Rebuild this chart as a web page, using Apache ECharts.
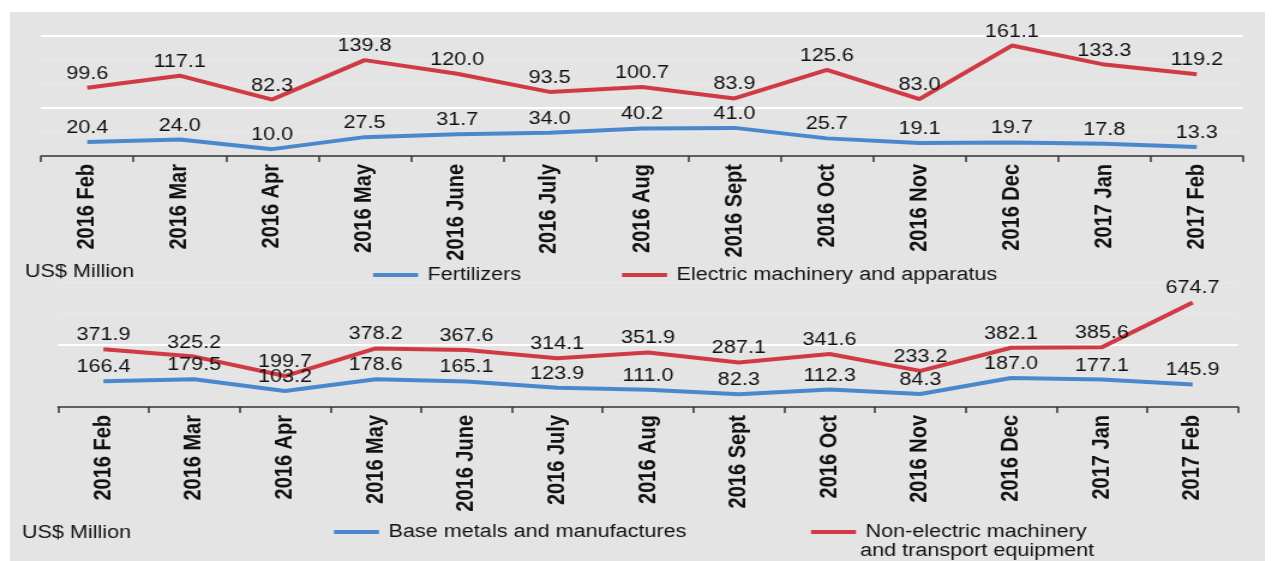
<!DOCTYPE html>
<html>
<head>
<meta charset="utf-8">
<script src="https://cdn.jsdelivr.net/npm/echarts@6/dist/echarts.min.js"></script>
<style>
  html, body { margin: 0; padding: 0; background: #ffffff; width: 1278px; height: 561px; overflow: hidden; }
  #panel { position: absolute; left: 10px; top: 12px; width: 1255px; height: 549px; background: #e4e4e4; }
  #chart { position: absolute; left: 0; top: 0; width: 1065px; height: 561px; transform: scaleX(1.2); transform-origin: 0 0; }
</style>
</head>
<body>
<div id="panel"></div>
<div id="chart"></div>
<script>
// ---- data ----
const categories = ['2016 Feb', '2016 Mar', '2016 Apr', '2016 May', '2016 June', '2016 July', '2016 Aug', '2016 Sept', '2016 Oct', '2016 Nov', '2016 Dec', '2017 Jan', '2017 Feb'];
const fertilizers = [20.4, 24.0, 10.0, 27.5, 31.7, 34.0, 40.2, 41.0, 25.7, 19.1, 19.7, 17.8, 13.3];
const electric = [99.6, 117.1, 82.3, 139.8, 120.0, 93.5, 100.7, 83.9, 125.6, 83.0, 161.1, 133.3, 119.2];
const baseMetals = [166.4, 179.5, 103.2, 178.6, 165.1, 123.9, 111.0, 82.3, 112.3, 84.3, 187.0, 177.1, 145.9];
const nonElectric = [371.9, 325.2, 199.7, 378.2, 367.6, 314.1, 351.9, 287.1, 341.6, 233.2, 382.1, 385.6, 674.7];
const unitLabel = 'US$ Million';
const seriesNames = ['Fertilizers', 'Electric machinery and apparatus', 'Base metals and manufactures', 'Non-electric machinery and transport equipment'];

// ---- styling ----
const S = 1.2; // horizontal stretch of the reference
const FONT = '"Liberation Sans", Arial, sans-serif';
const RED = '#d03a45';
const BLUE = '#4a87cc';
const faint = 'rgba(255,255,255,0.12)';

function xAx(gridIndex) {
  return {
    type: 'category', gridIndex: gridIndex, data: categories, boundaryGap: true,
    axisLine: { lineStyle: { color: '#333', width: 1.5 } },
    axisTick: { show: true, length: 6, lineStyle: { color: '#333', width: 1.5 } },
    axisLabel: { rotate: 90, interval: 0, fontSize: 20, fontWeight: 'bold', color: '#111', margin: 8, fontFamily: FONT }
  };
}
function yAx(gridIndex, max, interval, colors) {
  return {
    type: 'value', gridIndex: gridIndex, min: 0, max: max, interval: interval,
    axisLine: { show: false }, axisTick: { show: false }, axisLabel: { show: false },
    splitLine: { show: true, lineStyle: { color: colors, width: 2 } }
  };
}
function line(name, data, color, idx) {
  return {
    type: 'line', name: name, data: data, xAxisIndex: idx, yAxisIndex: idx,
    symbol: 'circle', symbolSize: 0, showSymbol: true, smooth: false,
    lineStyle: { color: color, width: 4 }, itemStyle: { color: color },
    label: { show: true, position: 'top', distance: 5, fontSize: 18, color: '#111', fontFamily: FONT,
      formatter: p => Number(p.value).toFixed(1) },
    labelLayout: { hideOverlap: false }
  };
}
function leg(name, leftTarget, centerY, formatter) {
  const o = {
    data: [name], left: leftTarget / S, top: centerY - 10, padding: 0,
    itemWidth: 45 / S, itemHeight: 4, icon: 'rect', selectedMode: false,
    textStyle: { fontSize: 18, fontFamily: FONT, color: '#111', lineHeight: 20, padding: [0, 0, 0, 3] }
  };
  if (formatter) o.formatter = formatter;
  return o;
}

const chart = echarts.init(document.getElementById('chart'), null, { renderer: 'canvas' });
chart.setOption({
  animation: false,
  backgroundColor: 'transparent',
  grid: [
    { left: 41 / S, right: 1065 - 1243 / S, top: 36, bottom: 561 - 156 },
    { left: 58 / S, right: 1065 - 1238 / S, top: 283, bottom: 561 - 407 }
  ],
  xAxis: [xAx(0), xAx(1)],
  yAxis: [
    yAx(0, 175, 35, ['transparent', faint, '#ffffff', faint, faint, '#ffffff']),
    yAx(1, 800, 200, ['transparent', faint, '#ffffff', faint, faint])
  ],
  legend: [
    leg(seriesNames[0], 373, 275),
    leg(seriesNames[1], 622, 275),
    leg(seriesNames[2], 334, 532),
    leg(seriesNames[3], 811, 532, () => 'Non-electric machinery')
  ],
  graphic: [
    { type: 'text', left: 25 / S, top: 263, style: { text: unitLabel, fill: '#111', font: '18px ' + FONT } },
    { type: 'text', left: 22 / S, top: 524, style: { text: unitLabel, fill: '#111', font: '18px ' + FONT } },
    { type: 'text', left: 860 / S, top: 542, style: { text: 'and transport equipment', fill: '#111', font: '18px ' + FONT } }
  ],
  series: [
    line(seriesNames[0], fertilizers, BLUE, 0),
    line(seriesNames[1], electric, RED, 0),
    line(seriesNames[2], baseMetals, BLUE, 1),
    line(seriesNames[3], nonElectric, RED, 1)
  ]
});
</script>
</body>
</html>
